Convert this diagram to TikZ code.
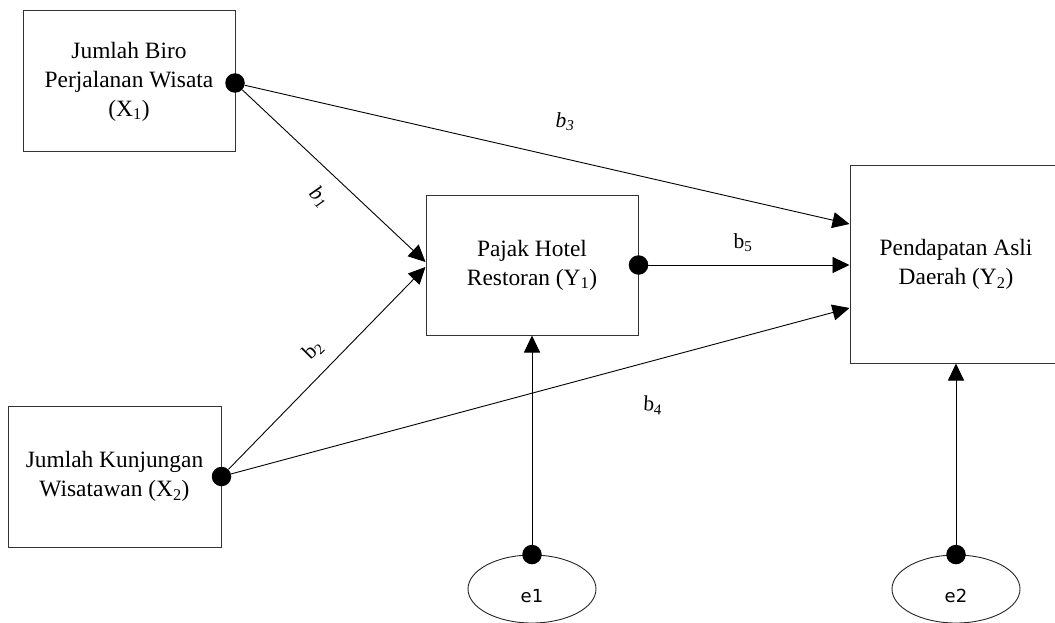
\documentclass[tikz,border=0pt]{standalone}
\usepackage{fontspec}
\setmainfont{Liberation Serif}
\newfontfamily\efont{DejaVu Sans}
\usetikzlibrary{arrows.meta,shapes.geometric}
\begin{document}
\begin{tikzpicture}[x=1pt,y=-1pt,
  box/.style={draw=black!80, line width=1pt, rectangle, minimum width=212pt, inner sep=0pt, align=center, font=\fontsize{23.4}{29}\selectfont},
  dot/.style={circle, fill=black, inner sep=0pt, minimum size=19.5pt},
  errnode/.style={draw=black!85, line width=0.9pt, ellipse, minimum width=128pt, minimum height=68pt, inner sep=0pt},
  errtext/.style={inner sep=0pt, font=\efont\fontsize{18}{20}\selectfont},
  conn/.style={line width=0.9pt, -{Triangle[length=17pt,width=16pt]}},
  lab/.style={font=\fontsize{21.5}{24}\selectfont, inner sep=0pt}]
\useasboundingbox (0,0) rectangle (1055,623);
\clip (0,0) rectangle (1055,623);
\fill[white] (0,0) rectangle (1055,623);

% boxes
\node[box, minimum height=141pt] (X1) at (129,81.5) {Jumlah Biro\\Perjalanan Wisata\\(X\textsubscript{1})};
\node[box, minimum width=213pt, minimum height=141pt] (X2) at (114.5,476.5) {Jumlah Kunjungan\\Wisatawan (X\textsubscript{2})};
\node[box, minimum height=140pt] (Y1) at (532,265) {Pajak Hotel\\Restoran (Y\textsubscript{1})};
\node[box, minimum height=197pt] (Y2) at (956,264.5) {Pendapatan Asli\\Daerah (Y\textsubscript{2})};

% error terms
\node[errnode] (e1) at (532,589) {};
\node[errnode] (e2) at (956,589) {};
\node[errtext] (t1) at ([yshift=-7pt]e1.center) {e1};
\node[errtext] (t2) at ([yshift=-7pt]e2.center) {e2};

% dots
\node[dot] (d1) at (235,83) {};
\node[dot] (d2) at (X2.east) {};
\node[dot] (d3) at (Y1.east) {};
\node[dot] (d4) at (e1.north) {};
\node[dot] (d5) at (e2.north) {};

% connectors
\draw[conn] (d1) -- ([yshift=3pt]Y1.west);
\draw[conn] (d2) -- ([yshift=-2pt]Y1.west);
\draw[conn] (d1) -- ([yshift=40.5pt]Y2.west);
\draw[conn] (d3) -- ([yshift=-0.5pt]Y2.west);
\draw[conn] (d2) -- ([yshift=-43.5pt]Y2.west);
\draw[conn] (d4) -- (Y1.south);
\draw[conn] (d5) -- (Y2.south);

% labels
\node[lab, rotate=-45] (lb1) at (319,197) {\textit{b\kern0.5pt\textsubscript{1}}};
\node[lab, rotate=45] (lb2) at (313,350) {b\textsubscript{2}};
\node[lab] (lb3) at (565,122) {\textit{b\textsubscript{3}}};
\node[lab, rotate=-4] (lb4) at (653,405) {b\textsubscript{4}};
\node[lab] (lb5) at (743,243) {b\textsubscript{5}};
\end{tikzpicture}
\end{document}
